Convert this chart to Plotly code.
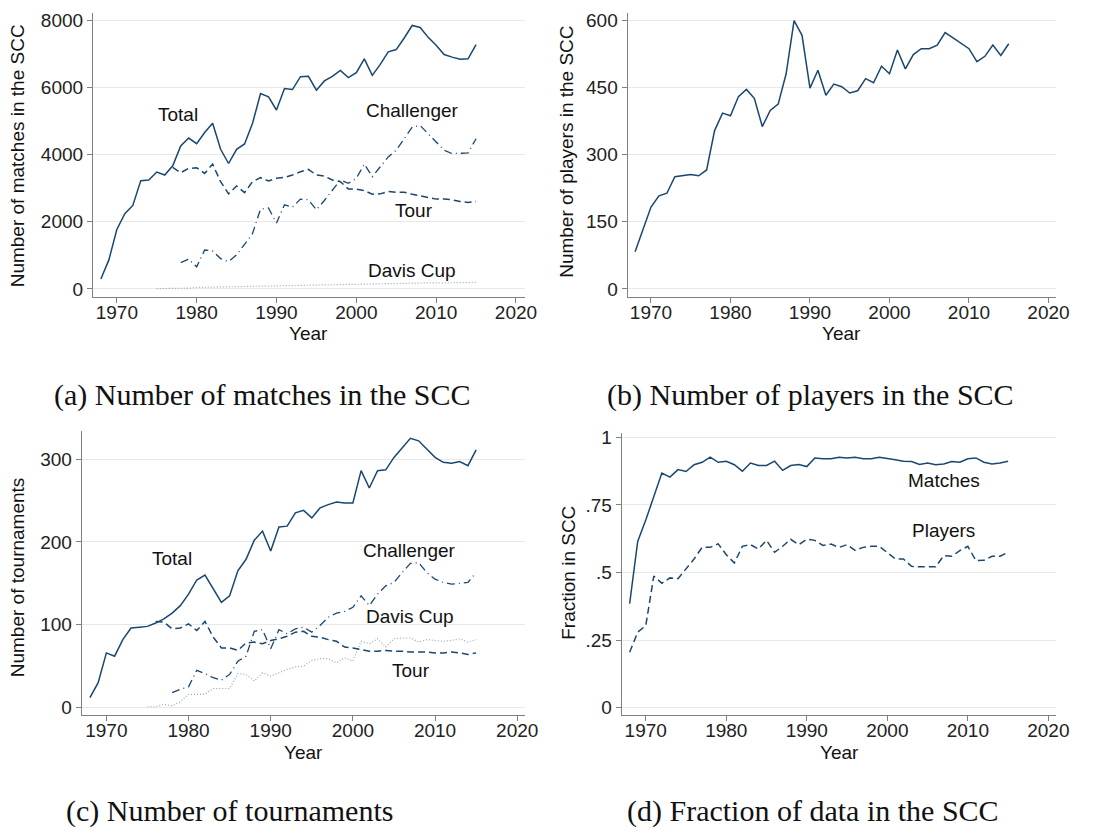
import plotly.graph_objects as go

# ---- data ----
YEARS = list(range(1968, 2016))

# (a) matches in the SCC
MATCH_TOTAL = [295, 866, 1771, 2244, 2490, 3228, 3247, 3484, 3395, 3670,
               4261, 4497, 4330, 4664, 4940, 4162, 3739, 4162, 4320, 4940,
               5825, 5727, 5333, 5973, 5943, 6327, 6337, 5924, 6199, 6337,
               6514, 6298, 6445, 6858, 6366, 6691, 7065, 7134, 7478, 7852,
               7793, 7498, 7262, 6986, 6908, 6848, 6858, 7282]
MATCH_TOUR = [None] * 9 + [
               3620, 3464, 3592, 3611, 3444, 3720, 3198, 2834, 3070, 2873,
               3198, 3316, 3218, 3296, 3326, 3395, 3493, 3562, 3395, 3365,
               3247, 3198, 2982, 2972, 2932, 2824, 2834, 2903, 2883, 2883,
               2824, 2775, 2726, 2677, 2677, 2657, 2608, 2578, 2608]
MATCH_CHALL = [None] * 10 + [
               787, 886, 659, 1161, 1132, 905, 817, 1014, 1328, 1653,
               2381, 2411, 1968, 2509, 2440, 2677, 2657, 2362, 2637, 2952,
               3247, 3149, 3296, 3720, 3346, 3641, 3936, 4133, 4477, 4822,
               4871, 4625, 4379, 4133, 4034, 4034, 4054, 4477]
MATCH_DAVIS = [None] * 7 + [
               10, 12, 15, 18, 25, 45, 50, 55, 60, 62,
               70, 75, 80, 85, 90, 95, 100, 110, 115, 120,
               125, 130, 135, 140, 145, 150, 160, 162, 165, 170,
               172, 175, 178, 180, 182, 180, 178, 182, 185, 190, 197]

# (b) players in the SCC
PLAYERS = [83, 133, 183, 208, 214, 251, 253, 256, 253, 266,
           354, 393, 387, 430, 446, 426, 363, 399, 413, 481,
           600, 567, 449, 489, 433, 458, 452, 438, 443, 470,
           461, 498, 481, 534, 492, 524, 537, 537, 545, 573,
           561, 548, 537, 508, 520, 545, 522, 548]

# (c) tournaments
TOURN_TOTAL = [12, 30, 66, 62, 82, 96, 97, 98, 102, 107,
               114, 123, 137, 154, 160, 143, 127, 135, 165, 179,
               202, 213, 189, 218, 219, 235, 238, 229, 241, 245,
               248, 247, 247, 286, 265, 286, 287, 302, 314, 325,
               322, 312, 302, 296, 295, 297, 292, 311]
TOURN_TOUR = [None] * 8 + [
               104, 103, 95, 96, 101, 93, 104, 85, 72, 72,
               69, 78, 79, 77, 81, 83, 86, 91, 92, 86,
               85, 82, 80, 73, 72, 70, 68, 68, 69, 68,
               68, 67, 67, 67, 66, 66, 67, 66, 64, 66]
TOURN_CHALL = [None] * 10 + [
               18, 22, 25, 45, 41, 36, 33, 40, 56, 62,
               92, 94, 71, 94, 89, 95, 97, 91, 99, 109,
               114, 116, 121, 135, 123, 137, 147, 151, 163, 174,
               175, 163, 155, 151, 149, 150, 151, 163]
TOURN_DAVIS = [None] * 7 + [
               1, 1, 4, 2, 7, 16, 16, 16, 23, 23,
               23, 41, 40, 32, 42, 38, 42, 46, 49, 50,
               57, 59, 59, 54, 60, 56, 80, 77, 83, 73,
               83, 84, 84, 79, 82, 81, 80, 81, 83, 79, 82]

# (d) fraction of data in the SCC
FRAC_MATCHES = [0.385, 0.615, 0.694, 0.780, 0.868, 0.853, 0.881, 0.874, 0.899, 0.908,
                0.927, 0.908, 0.912, 0.899, 0.875, 0.905, 0.896, 0.896, 0.912, 0.878,
                0.896, 0.900, 0.892, 0.924, 0.921, 0.921, 0.927, 0.924, 0.927, 0.921,
                0.921, 0.927, 0.921, 0.917, 0.912, 0.911, 0.900, 0.905, 0.899, 0.902,
                0.911, 0.908, 0.921, 0.924, 0.908, 0.902, 0.905, 0.912]
FRAC_PLAYERS = [0.205, 0.279, 0.303, 0.487, 0.460, 0.480, 0.477, 0.515, 0.550, 0.593,
                0.593, 0.606, 0.566, 0.535, 0.597, 0.603, 0.587, 0.619, 0.575, 0.597,
                0.623, 0.603, 0.623, 0.619, 0.600, 0.605, 0.593, 0.603, 0.582, 0.593,
                0.597, 0.597, 0.572, 0.550, 0.550, 0.523, 0.521, 0.521, 0.521, 0.562,
                0.560, 0.581, 0.597, 0.544, 0.545, 0.560, 0.560, 0.575]

X_TICKS = [1970, 1980, 1990, 2000, 2010, 2020]

NAVY = '#1a476f'
SANS = 'Liberation Sans, Arial, sans-serif'
SERIF = 'Liberation Serif, Times New Roman, serif'
W, H = 1105, 836

solid = dict(color=NAVY, width=1.5)
dashed = dict(color=NAVY, width=1.5, dash='7px,4px')
dashdot = dict(color=NAVY, width=1.3, dash='8px,4px,1px,4px')
dotted = dict(color='#95a5b8', width=1.2, dash='1px,2px')


def px_x(p):
    return p / W


def px_y(p):
    return 1 - p / H


fig = go.Figure()


def line(x, y, style, n):
    fig.add_trace(go.Scatter(x=x, y=y, mode='lines', line=style,
                             xaxis=f'x{n}', yaxis=f'y{n}',
                             connectgaps=False, showlegend=False,
                             hoverinfo='skip'))


# panel a
line(YEARS, MATCH_DAVIS, dotted, '')
line(YEARS, MATCH_CHALL, dashdot, '')
line(YEARS, MATCH_TOUR, dashed, '')
line(YEARS, MATCH_TOTAL, solid, '')
# panel b
line(YEARS, PLAYERS, solid, 2)
# panel c
line(YEARS, TOURN_DAVIS, dotted, 3)
line(YEARS, TOURN_CHALL, dashdot, 3)
line(YEARS, TOURN_TOUR, dashed, 3)
line(YEARS, TOURN_TOTAL, solid, 3)
# panel d
line(YEARS, FRAC_PLAYERS, dashed, 4)
line(YEARS, FRAC_MATCHES, solid, 4)

tickfont = dict(family=SANS, size=19, color='#222')


def xaxis(dom, anchor, rng):
    return dict(domain=dom, anchor=anchor, range=rng, tickvals=X_TICKS,
                showline=True, linecolor='#808080', linewidth=1,
                ticks='outside', ticklen=5, tickcolor='#808080',
                ticklabelstandoff=-7,
                showgrid=False, zeroline=False, tickfont=tickfont)


def yaxis(dom, anchor, rng, tv, tt=None):
    d = dict(domain=dom, anchor=anchor, range=rng, tickvals=tv,
             showline=True, linecolor='#808080', linewidth=1,
             ticks='outside', ticklen=5, tickcolor='#808080',
             showgrid=True, gridcolor='#e8e8e8', gridwidth=1,
             zeroline=False, tickfont=tickfont)
    if tt is not None:
        d['ticktext'] = tt
    return d


top = [px_y(295), px_y(8)]
bot_c = [px_y(716.7), px_y(430)]
bot_d = [px_y(716.7), px_y(431.7)]

fig.update_layout(
    xaxis=xaxis([px_x(94), px_x(531)], 'y', [1967.0, 2021.1]),
    yaxis=yaxis(top, 'x', [-245, 8226], [0, 2000, 4000, 6000, 8000]),
    xaxis2=xaxis([px_x(635), px_x(1069)], 'y2', [1967.05, 2021.0]),
    yaxis2=yaxis(top, 'x2', [-18.4, 617], [0, 150, 300, 450, 600]),
    xaxis3=xaxis([px_x(82.7), px_x(531.7)], 'y3', [1967.0, 2021.0]),
    yaxis3=yaxis(bot_c, 'x3', [-8.8, 334], [0, 100, 200, 300]),
    xaxis4=xaxis([px_x(629), px_x(1069)], 'y4', [1967.0, 2021.0]),
    yaxis4=yaxis(bot_d, 'x4', [-0.027, 1.018], [0, 0.25, 0.5, 0.75, 1],
                 ['0', '.25', '.5', '.75', '1']),
)

ann = []
lab = dict(family=SANS, size=19, color='#111')


def series_label(text, x, y, n):
    ann.append(dict(text=text, x=x, y=y, xref=f'x{n}', yref=f'y{n}',
                    showarrow=False, font=lab))


series_label('Total', 1977.6, 5186, '')
series_label('Challenger', 2007.0, 5304, '')
series_label('Tour', 2007.2, 2352, '')
series_label('Davis Cup', 2007.0, 552, '')
series_label('Total', 1978.0, 180, 3)
series_label('Challenger', 2006.9, 189, 3)
series_label('Davis Cup', 2006.9, 110, 3)
series_label('Tour', 2007.1, 44.6, 3)
series_label('Matches', 2007.0, 0.841, 4)
series_label('Players', 2007.0, 0.654, 4)


def paper_text(text, x, y, font, angle=0):
    ann.append(dict(text=text, x=px_x(x), y=px_y(y), xref='paper', yref='paper',
                    showarrow=False, font=font, textangle=angle,
                    xanchor='center', yanchor='middle'))


# axis titles
paper_text('Year', 312, 332, lab)
paper_text('Year', 852, 332, lab)
paper_text('Year', 307, 755, lab)
paper_text('Year', 849, 755, lab)
paper_text('Number of matches in the SCC', 18, 152, lab, -90)
paper_text('Number of players in the SCC', 573, 148, lab, -90)
paper_text('Number of tournaments', 18, 578, lab, -90)
paper_text('Fraction in SCC', 575, 573, lab, -90)

# subfigure captions
cap = dict(family=SERIF, size=30, color='#111')
paper_text('(a) Number of matches in the SCC', 266, 394, cap)
paper_text('(b) Number of players in the SCC', 820, 394, cap)
paper_text('(c) Number of tournaments', 232, 814, cap)
paper_text('(d) Fraction of data in the SCC', 823, 814, cap)

fig.update_layout(
    annotations=ann,
    width=W, height=H, autosize=False,
    margin=dict(l=0, r=0, t=0, b=0),
    paper_bgcolor='white', plot_bgcolor='white',
    showlegend=False,
)

fig.write_html('out.html', config={'displayModeBar': False},
               post_script="document.body.style.margin='0';")
